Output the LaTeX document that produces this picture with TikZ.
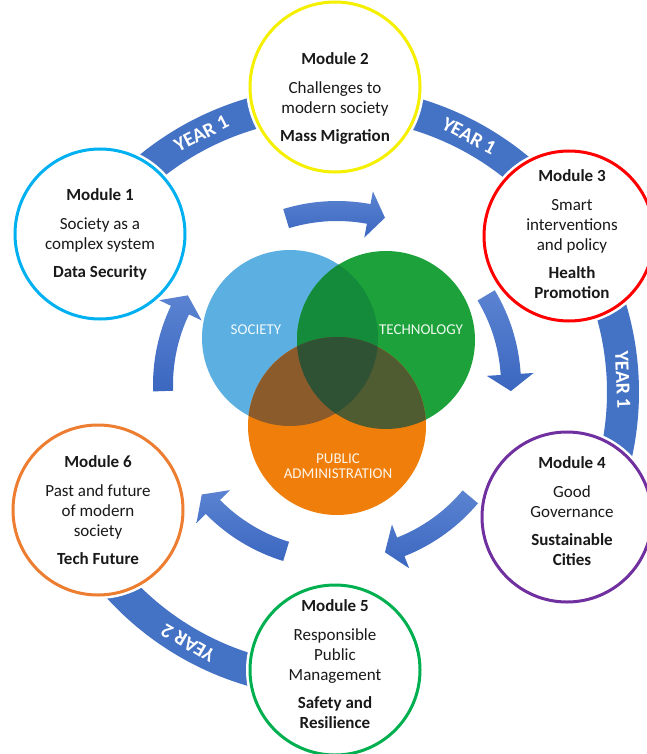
\documentclass[tikz,border=0pt]{standalone}
\usepackage{fontspec}
\setmainfont{Carlito}
\definecolor{bandblue}{HTML}{4472C4}
\definecolor{arrowtop}{HTML}{5B83D1}
\definecolor{arrowbot}{HTML}{3B67C0}
\definecolor{socblue}{HTML}{5BAFE1}
\definecolor{techgreen}{HTML}{1DA23B}
\definecolor{paorange}{HTML}{EF7F0A}
\definecolor{stcol}{HTML}{138B3A}
\definecolor{spcol}{HTML}{8C5B2B}
\definecolor{tpcol}{HTML}{4F5B31}
\definecolor{stpcol}{HTML}{2F5235}
\definecolor{cA}{HTML}{00B0F0}
\definecolor{cB}{HTML}{F5F000}
\definecolor{cC}{HTML}{FF0000}
\definecolor{cD}{HTML}{7030A0}
\definecolor{cE}{HTML}{00B050}
\definecolor{cF}{HTML}{ED7D31}
\tikzset{
  modc/.style={circle, minimum size=170pt, inner sep=0pt, fill=white, draw=#1,
    line width=3pt, preaction={draw=white, line width=8pt}},
  mtext/.style={align=center, text=black!90, font=\fontsize{17}{20}\selectfont},
  yeartext/.style={text=white, font=\bfseries\fontsize{20}{24}\selectfont},
  venntext/.style={text=white, text opacity=0.92, align=center, font=\fontsize{15}{15}\selectfont},
  bandfill/.style={fill=bandblue},
  arrowshade/.style={top color=arrowtop, bottom color=arrowbot}
}
\newcommand\blockarc[2]{%
  \shade[arrowshade] (#1:164) arc[start angle=#1, end angle={#2+5.5}, radius=164pt]
    -- ({#2+5.5}:150) -- (#2:174) -- ({#2+5.5}:197) -- ({#2+5.5}:184)
    arc[start angle={#2+5.5}, end angle=#1, radius=184pt] -- cycle;}
\newcommand\bandarc[2]{%
  \fill[bandfill] (#1:274) arc[start angle=#1, end angle=#2, radius=274pt]
    -- (#2:306) arc[start angle=#2, end angle=#1, radius=306pt] -- cycle;}
\begin{document}
\begin{tikzpicture}[x=1pt, y=1pt]
\useasboundingbox (0,0) rectangle (646,-754);
\fill[white] (0,0) rectangle (646,-754);
% year bands
\begin{scope}[shift={(333,-392)}]
  \bandarc{145.9}{89.6}
  \bandarc{89.6}{33.5}
  \bandarc{33.5}{-28.1}
  \bandarc{206.7}{270.4}
  \node[yeartext, rotate=27] (y1) at (117:290) {YEAR 1};
  \node[yeartext, rotate=-28] (y2) at (62:290) {YEAR 1};
  \node[yeartext, rotate=-87.6] (y3) at (2.4:290) {YEAR 1};
  \node[yeartext, rotate=150] (y4) at (240:290) {YEAR 2};
\end{scope}
% curved arrows
\begin{scope}[shift={(337,-385)}]
  \blockarc{107}{74}
  \blockarc{31}{-2}
  \blockarc{-40}{-74}
  \blockarc{253}{219}
  \blockarc{182}{149}
\end{scope}
% Venn
\coordinate (S) at (290,-338);
\coordinate (T) at (386,-340);
\coordinate (P) at (337,-426);
\fill[socblue] (S) circle[radius=88pt];
\fill[techgreen] (T) circle[radius=89pt];
\fill[paorange] (P) circle[radius=89pt];
\begin{scope}\clip (S) circle[radius=88pt]; \fill[stcol] (T) circle[radius=89pt];\end{scope}
\begin{scope}\clip (S) circle[radius=88pt]; \fill[spcol] (P) circle[radius=89pt];\end{scope}
\begin{scope}\clip (T) circle[radius=89pt]; \fill[tpcol] (P) circle[radius=89pt];\end{scope}
\begin{scope}\clip (S) circle[radius=88pt]; \clip (T) circle[radius=89pt]; \fill[stpcol] (P) circle[radius=89pt];\end{scope}
\node[venntext] (vs) at (256,-330) {SOCIETY};
\node[venntext] (vt) at (421,-330) {TECHNOLOGY};
\node[venntext] (vp) at (338,-466) {PUBLIC\\ADMINISTRATION};
% module circles
\node[modc=cA] (m1) at (100,-234) {};
\node[modc=cB] (m2) at (335,-87) {};
\node[modc=cC] (m3) at (569,-236) {};
\node[modc=cD] (m4) at (567,-517) {};
\node[modc=cE] (m5) at (335,-670) {};
\node[modc=cF] (m6) at (98,-510) {};
\node[mtext] (t1) at (100,-234.5) {\textbf{Module 1}\\[9pt]Society as a\\complex system\\[8pt]\textbf{Data Security}};
\node[mtext] (t2) at (335,-98.5) {\textbf{Module 2}\\[9pt]Challenges to\\modern society\\[8pt]\textbf{Mass Migration}};
\node[mtext] (t3) at (572,-234.5) {\textbf{Module 3}\\[9pt]Smart\\interventions\\and policy\\[8pt]\textbf{Health}\\\textbf{Promotion}};
\node[mtext] (t4) at (572,-511.5) {\textbf{Module 4}\\[9pt]Good\\Governance\\[8pt]\textbf{Sustainable}\\\textbf{Cities}};
\node[mtext] (t5) at (335,-664.5) {\textbf{Module 5}\\[9pt]Responsible\\Public\\Management\\[8pt]\textbf{Safety and}\\\textbf{Resilience}};
\node[mtext] (t6) at (98,-510.5) {\textbf{Module 6}\\[9pt]Past and future\\of modern\\society\\[8pt]\textbf{Tech Future}};
\end{tikzpicture}
\end{document}
